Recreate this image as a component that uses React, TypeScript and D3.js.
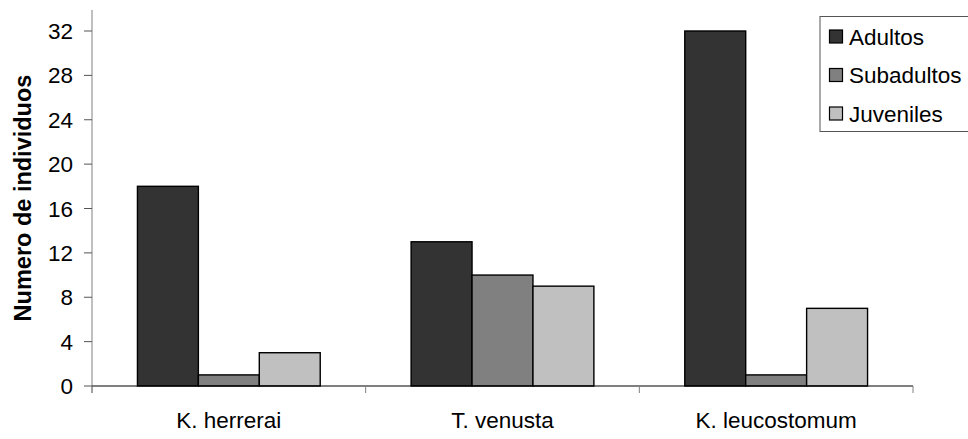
import React from "react";
import * as d3 from "d3";

const categories = ["K. herrerai", "T. venusta", "K. leucostomum"];
const seriesNames = ["Adultos", "Subadultos", "Juveniles"];
const adultos = [18, 13, 32];
const subadultos = [1, 10, 1];
const juveniles = [3, 9, 7];
const yTicks = [0, 4, 8, 12, 16, 20, 24, 28, 32];
const colors = ["#333333", "#808080", "#c0c0c0"];

export default function App() {
  const W = 968, H = 439;
  const x0 = 92, x1 = 913, yBase = 386, yTop = 31, axisTop = 10;
  const series = [adultos, subadultos, juveniles];
  const x = d3.scaleBand<string>().domain(categories).range([x0, x1]).paddingInner(0).paddingOuter(0);
  const y = d3.scaleLinear().domain([0, 32]).range([yBase, yTop]);
  const bw = x.bandwidth();
  const barW = bw * (61 / 274);
  const groupPad = (bw - barW * 3) / 2;
  const font = "'Liberation Sans', Arial, sans-serif";
  const catEdges = [...categories.map((c) => x(c)!), x1];
  const fs = 22.5;

  return (
    <svg width={W} height={H} style={{ position: "absolute", left: 0, top: 0 }}>
      <rect x={0} y={0} width={W} height={H} fill="#fff" />
      {categories.map((c, ci) =>
        series.map((s, si) => (
          <rect
            key={c + si}
            x={x(c)! + groupPad + si * barW}
            y={y(s[ci])}
            width={barW}
            height={yBase - y(s[ci])}
            fill={colors[si]}
            stroke="#000"
            strokeWidth={1.4}
          />
        ))
      )}
      {/* y axis */}
      <line x1={x0} x2={x0} y1={axisTop} y2={yBase + 7} stroke="#808080" strokeWidth={1} />
      {yTicks.map((t) => (
        <g key={t}>
          <line x1={x0 - 8} x2={x0} y1={y(t)} y2={y(t)} stroke="#555" strokeWidth={1} />
          <text x={x0 - 19} y={y(t)} dy="0.36em" textAnchor="end" fontFamily={font} fontSize={fs} fill="#000">
            {t}
          </text>
        </g>
      ))}
      {/* x axis */}
      <line x1={x0} x2={x1} y1={yBase} y2={yBase} stroke="#000" strokeWidth={1.2} />
      {catEdges.map((e, i) => (
        <line key={i} x1={e} x2={e} y1={yBase} y2={yBase + 7} stroke="#808080" strokeWidth={1} />
      ))}
      {categories.map((c) => (
        <text key={c} x={x(c)! + bw / 2} y={428} textAnchor="middle" fontFamily={font} fontSize={fs} fill="#000">
          {c}
        </text>
      ))}
      <text
        transform={`translate(31,198) rotate(-90)`}
        textAnchor="middle"
        fontFamily={font}
        fontSize={23.5}
        fontWeight="bold"
        fill="#000"
      >
        Numero de individuos
      </text>
      {/* legend */}
      <rect x={820} y={16.5} width={160} height={115} fill="#fff" stroke="#555" strokeWidth={1} />
      {seriesNames.map((n, i) => (
        <g key={n}>
          <rect x={829.5} y={30 + i * 38.5} width={13} height={13} fill={colors[i]} stroke="#000" strokeWidth={1.2} />
          <text x={849} y={36.5 + i * 38.5} dy="0.36em" fontFamily={font} fontSize={fs} fill="#000">
            {n}
          </text>
        </g>
      ))}
    </svg>
  );
}
